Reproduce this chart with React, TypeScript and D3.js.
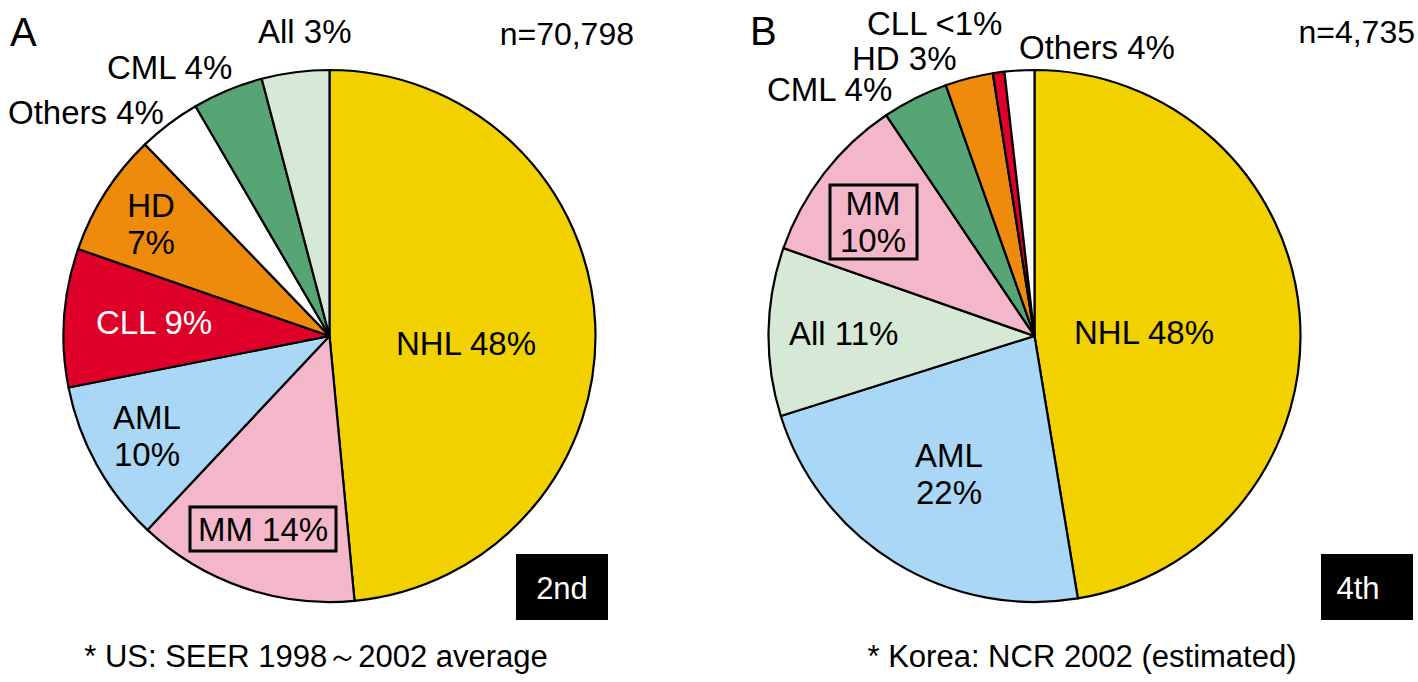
import * as d3 from "d3";

// slice shares (clockwise from 12 o'clock)
const catsA = ["NHL", "MM", "AML", "CLL", "HD", "Others", "CML", "All"];
const valsA = [48.5, 13.5, 9.9, 8.4, 7.5, 3.8, 4.3, 4.1];

const catsB = ["NHL", "AML", "All", "MM", "CML", "HD", "CLL", "Others"];
const valsB = [47.3, 22.7, 10.2, 10.2, 4.0, 2.9, 0.7, 1.8];

const colors: Record<string, string> = {
  NHL: "#f2d100",
  MM: "#f4b7c9",
  AML: "#a9d7f5",
  CLL: "#de0029",
  HD: "#ee8a0c",
  Others: "#ffffff",
  CML: "#57a474",
  All: "#d6e8d6",
};

const W = 1418;
const H = 682;
const R = 266;
const font = "'Liberation Sans', Arial, Helvetica, sans-serif";

type Lbl = { lines: string[]; x: number; y: number; anchor?: string; fill?: string; box?: number[] };

const labelsA: Lbl[] = [
  { lines: ["NHL 48%"], x: 466, y: 355, anchor: "middle" },
  { lines: ["MM 14%"], x: 263, y: 541, anchor: "middle", box: [190, 507, 146, 44] },
  { lines: ["AML", "10%"], x: 147, y: 429, anchor: "middle" },
  { lines: ["CLL 9%"], x: 154, y: 334, anchor: "middle", fill: "#fff" },
  { lines: ["HD", "7%"], x: 151, y: 217, anchor: "middle" },
  { lines: ["Others 4%"], x: 8, y: 124 },
  { lines: ["CML 4%"], x: 107, y: 79 },
  { lines: ["All 3%"], x: 258, y: 43 },
];

const labelsB: Lbl[] = [
  { lines: ["NHL 48%"], x: 1144, y: 344, anchor: "middle" },
  { lines: ["AML", "22%"], x: 949, y: 467, anchor: "middle" },
  { lines: ["All 11%"], x: 789, y: 345 },
  { lines: ["MM", "10%"], x: 873, y: 215, anchor: "middle", box: [830, 185, 87, 74] },
  { lines: ["CML 4%"], x: 767, y: 101 },
  { lines: ["HD 3%"], x: 852, y: 70 },
  { lines: ["CLL <1%"], x: 867, y: 35 },
  { lines: ["Others 4%"], x: 1019, y: 59 },
];

const pie = d3
  .pie<number>()
  .sort(null)
  .value((d) => d)
  .startAngle(0)
  .endAngle(2 * Math.PI);

const arc = d3.arc<d3.PieArcDatum<number>>().innerRadius(0).outerRadius(R);

function Pie({ cats, vals, cx, cy }: { cats: string[]; vals: number[]; cx: number; cy: number }) {
  const arcs = pie(vals);
  return (
    <g transform={`translate(${cx},${cy})`}>
      {arcs.map((a, i) => (
        <path
          key={cats[i]}
          d={arc(a) || ""}
          fill={colors[cats[i]]}
          stroke="#000"
          strokeWidth={2.2}
          strokeLinejoin="round"
        />
      ))}
    </g>
  );
}

function Labels({ items }: { items: Lbl[] }) {
  return (
    <g fontSize={33} fontFamily={font}>
      {items.map((l, i) => (
        <g key={i}>
          {l.box && (
            <rect x={l.box[0]} y={l.box[1]} width={l.box[2]} height={l.box[3]} fill="none" stroke="#000" strokeWidth={3} />
          )}
          {l.lines.map((t, j) => (
            <text key={j} x={l.x} y={l.y + j * 37} textAnchor={l.anchor || "start"} fill={l.fill || "#000"}>
              {t}
            </text>
          ))}
        </g>
      ))}
    </g>
  );
}

export default function App() {
  return (
    <svg
      width={W}
      height={H}
      style={{ position: "absolute", left: 0, top: 0, background: "#fff" }}
      fontFamily={font}
    >
      <Pie cats={catsA} vals={valsA} cx={329.5} cy={336} />
      <Pie cats={catsB} vals={valsB} cx={1034.5} cy={336} />
      <Labels items={labelsA} />
      <Labels items={labelsB} />

      <text x={10} y={46} fontSize={40}>A</text>
      <text x={750} y={45} fontSize={40}>B</text>
      <text x={634} y={45} fontSize={32} textAnchor="end">n=70,798</text>
      <text x={1415} y={43} fontSize={32} textAnchor="end">n=4,735</text>

      <rect x={516} y={554} width={92} height={66} fill="#000" />
      <text x={562} y={599} fontSize={31} fill="#fff" textAnchor="middle">2nd</text>
      <rect x={1321} y={554} width={92} height={66} fill="#000" />
      <text x={1358} y={599} fontSize={31} fill="#fff" textAnchor="middle">4th</text>

      <text x={316} y={667} fontSize={31} textAnchor="middle">* US: SEER 1998～2002 average</text>
      <text x={1082} y={667} fontSize={31} textAnchor="middle">* Korea: NCR 2002 (estimated)</text>
    </svg>
  );
}
